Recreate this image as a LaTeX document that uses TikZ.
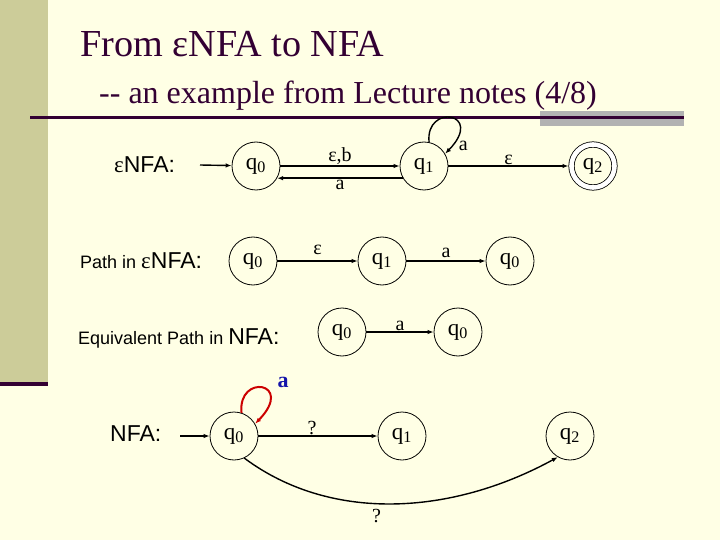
\documentclass[tikz,border=0pt]{standalone}
\usepackage{fontspec}
\setmainfont{Liberation Serif}
\setsansfont{Liberation Sans}
\usetikzlibrary{arrows.meta}
\definecolor{slideBg}{RGB}{255,255,229}
\definecolor{barOl}{RGB}{204,204,153}
\definecolor{ruleP}{RGB}{51,0,51}
\definecolor{ruleG}{RGB}{178,178,178}
\definecolor{loopR}{RGB}{204,0,0}
\definecolor{lblB}{RGB}{20,20,170}

\begin{document}
\begin{tikzpicture}[
  x=1pt, y=-1pt, >={Latex[length=6pt,width=4.5pt]},
  state/.style={circle, draw, line width=0.8pt, minimum size=48pt, inner sep=0pt,
                font=\fontsize{23}{23}\selectfont},
  accept/.style={state, minimum size=43pt, double, double distance=4.6pt, outer sep=3pt},
  edge/.style={->, line width=1.4pt},
  lbl/.style={font=\fontsize{20}{20}\selectfont, inner sep=1pt},
  rowtxt/.style={anchor=west, font=\sffamily\fontsize{23}{23}\selectfont, inner sep=0pt}]

  \useasboundingbox (0,0) rectangle (720,540);
  \fill[slideBg] (0,0) rectangle (720,540);
  \fill[barOl] (0,0) rectangle (48,382);
  \fill[ruleP] (0,382) rectangle (48,386);
  \fill[ruleG] (540,111) rectangle (684,126);
  \fill[ruleP] (30,116) rectangle (684,119);

  \node[anchor=base west, text=ruleP, inner sep=0pt, font=\fontsize{38.2}{38}\selectfont]
    (ttl) at (80,57) {From εNFA to NFA};
  \node[anchor=base west, text=ruleP, inner sep=0pt, font=\fontsize{32}{32}\selectfont]
    (sub) at (99,104) {-{}- an example from Lecture notes (4/8)};

  % the eNFA
  \node[rowtxt] (lab1) at (114,165) {{\rmfamily ε}NFA:};
  \coordinate (in1) at (200,165);
  \node[state] (a0) at (256,166) {q\textsubscript{0}};
  \node[state] (a1) at (424,166) {q\textsubscript{1}};
  \node[accept] (a2) at (593,166) {q\textsubscript{2}};
  \draw[edge] (in1) -- (a0);
  \draw[edge] (a0) -- node[lbl, above]{ε,b} (a1);
  \draw[edge] (a1.210) -- node[lbl, below]{a} (a0.-30);
  \draw[edge] (a1.78) .. controls +(96:39pt) and +(46:58pt) .. (a1.30)
    node[lbl, pos=0.93, right=5pt]{a};
  \draw[edge] (a1) -- node[lbl, above]{ε} (a2);

  % path in the eNFA
  \node[rowtxt] (lab2) at (80,261) {{\fontsize{18}{18}\selectfont Path in }{\rmfamily ε}NFA:};
  \node[state] (b0) at (253,261) {q\textsubscript{0}};
  \node[state] (b1) at (382,261) {q\textsubscript{1}};
  \node[state] (b2) at (510,261) {q\textsubscript{0}};
  \draw[edge] (b0) -- node[lbl, above=5pt]{ε} (b1);
  \draw[edge] (b1) -- node[lbl, above=2pt]{a} (b2);

  % same path in the NFA
  \node[rowtxt] (lab3) at (78,338) {{\fontsize{18}{18}\selectfont Equivalent Path in }NFA:};
  \node[state] (c0) at (342,332) {q\textsubscript{0}};
  \node[state] (c1) at (458,332) {q\textsubscript{0}};
  \draw[edge] (c0) -- node[lbl, above]{a} (c1);

  % the NFA to be found
  \node[rowtxt] (lab4) at (110,434) {NFA:};
  \coordinate (in4) at (180,436);
  \node[state] (d0) at (234,436) {q\textsubscript{0}};
  \node[state] (d1) at (402,436) {q\textsubscript{1}};
  \node[state] (d2) at (570,436) {q\textsubscript{2}};
  \draw[edge] (in4) -- (d0);
  \draw[edge] (d0) -- node[lbl, above, pos=0.45]{?} (d1);
  \draw[edge] (d0.-65) .. controls (330,522) and (450,516) .. node[lbl, below=4pt, pos=0.45]{?} (d2.-120);
  \draw[edge, loopR, line width=2pt] (d0.72) .. controls +(96:40pt) and +(46:58pt) .. (d0.30);
  \node[lbl, text=lblB, font=\bfseries\fontsize{22}{22}\selectfont] (la) at (283,382) {a};
\end{tikzpicture}
\end{document}
